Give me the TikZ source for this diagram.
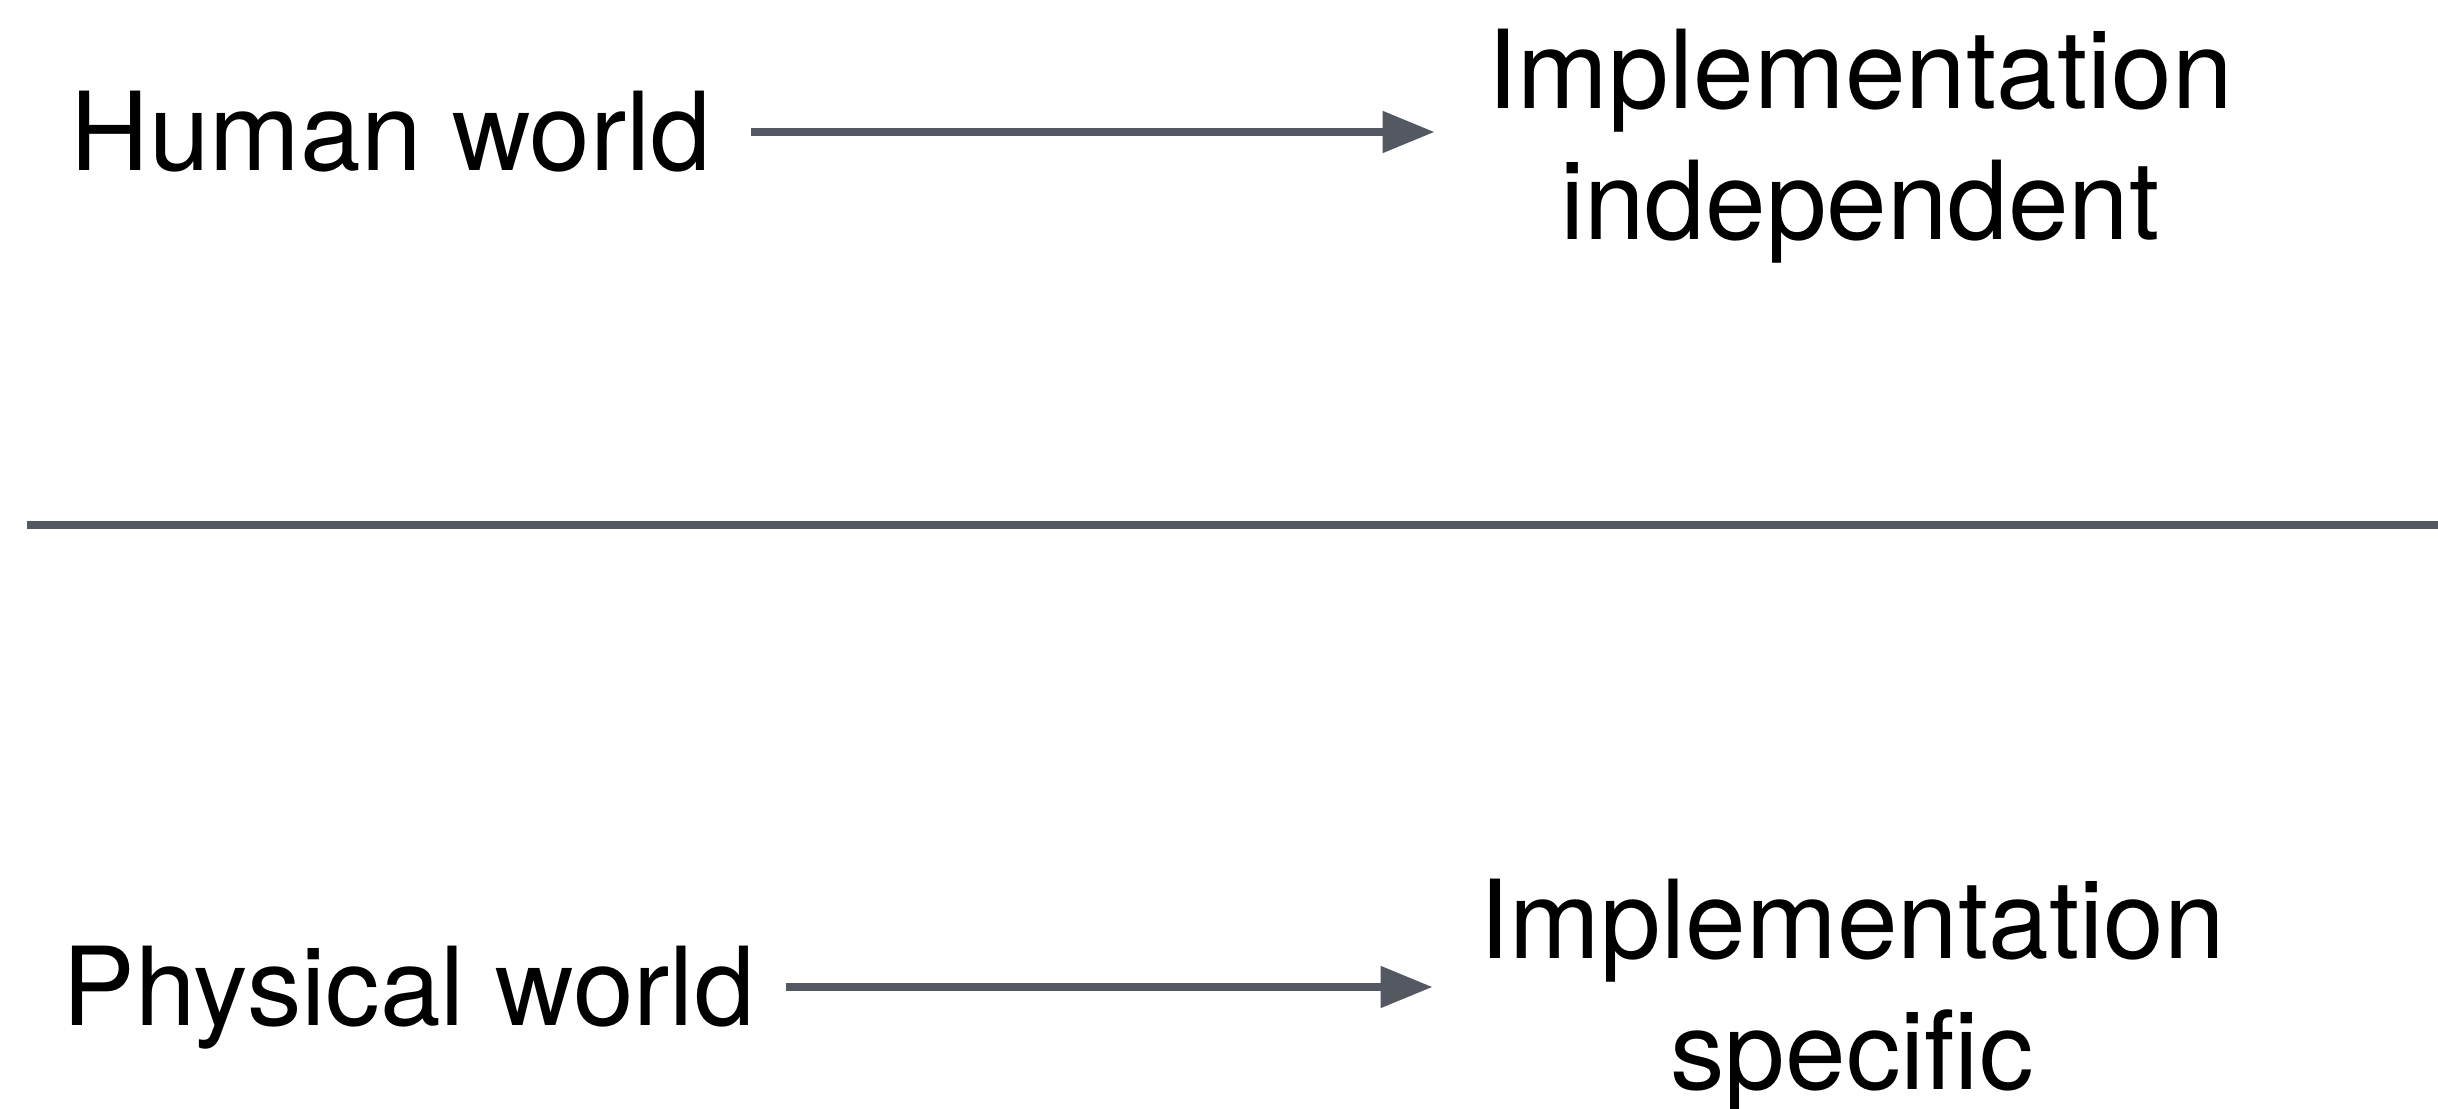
\documentclass[tikz,border=0pt]{standalone}
\usepackage{fontspec}
\setmainfont{TeX Gyre Heros}
\usepackage{tikz}
\usetikzlibrary{arrows.meta}
\usetikzlibrary{positioning}
\definecolor{linegray}{RGB}{84,88,96}

\begin{document}
\begin{tikzpicture}
	[every node/.style={inner sep=0pt,align=center,font=\fontsize{31}{37.3}\selectfont},
	 link/.style={draw=linegray,line width=2.3pt,-{Triangle[length=0.52cm,width=0.40cm]}}]
	\useasboundingbox (0,0) rectangle (24.38,-11.09);
	\node[anchor=base west] (human) at (0.70,-1.71) {Human world};
	\node[anchor=north] (indep) at (18.60,-0.28) {Implementation\\independent};
	\node[anchor=base west] (phys) at (0.62,-10.26) {Physical world};
	\node[anchor=north] (spec) at (18.52,-8.78) {Implementation\\specific};
	
	% divider between the two worlds
	\coordinate (divl) at (0.27,-5.25);
	\coordinate (divr) at (24.38,-5.25);
	\draw[linegray,line width=2.3pt] (divl) -- (divr);
	
	\foreach \from/\to/\ga/\gb in 
	{human/indep/0.39cm/0.52cm, phys/spec/0.31cm/0.46cm}
	\draw[link,shorten <=\ga,shorten >=\gb] ([yshift=0.39cm]\from.base east) -- ([yshift=0.39cm]\from.base east -| \to.west);
\end{tikzpicture}
\end{document}
